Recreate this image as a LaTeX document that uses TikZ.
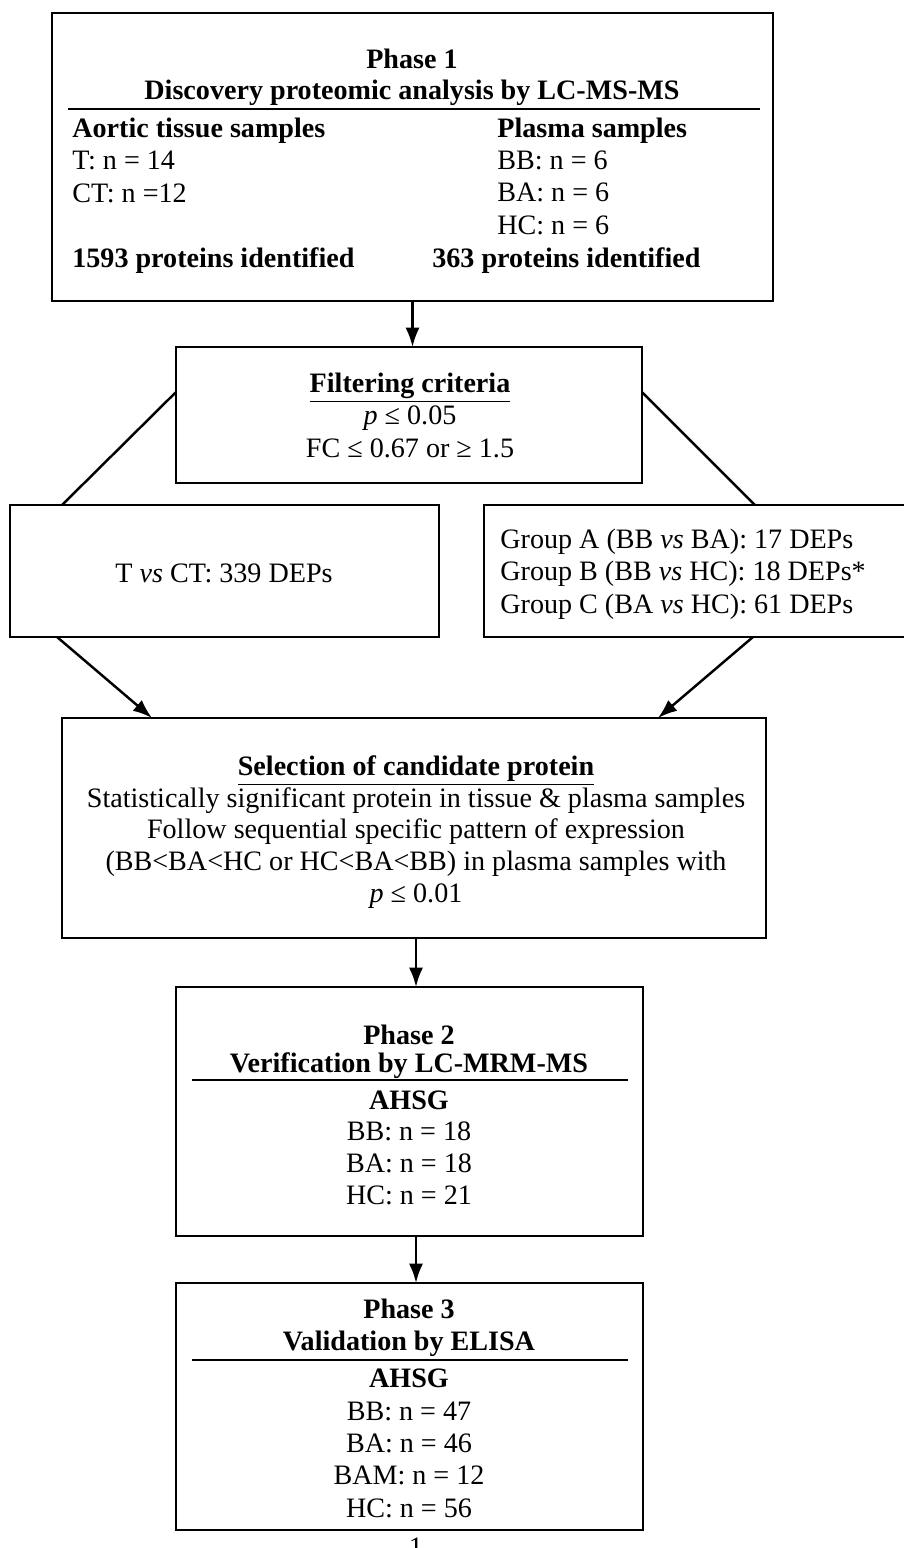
\documentclass[tikz,border=0pt]{standalone}
\usepackage{fontspec}
\setmainfont{Liberation Serif}
\usetikzlibrary{arrows.meta, calc}

\begin{document}
\begin{tikzpicture}[
    x=0.02cm, y=-0.02cm, % one unit = one pixel of the page
    % Styles
    box/.style={ % Phase and step boxes
        draw,
        line width=1.1pt,
        inner sep=0pt,
        outer sep=0pt
    },
    txt/.style={ % Text inside the boxes
        inner sep=0pt,
        font=\fontsize{16}{18.4}\selectfont
    },
    head/.style={ % Bold titles
        txt,
        align=center,
        font=\fontsize{16}{18.1}\selectfont\bfseries
    },
    arrow/.style={
        -{Latex[length=11pt,width=8pt]},
        line width=1.4pt
    },
    link/.style={ % Lines without tips
        line width=1.4pt
    },
    rule/.style={
        line width=0.8pt
    }
]
    \useasboundingbox (0,0) rectangle (903,1548);

    % Boxes
    \node[box, minimum width=14.42cm, minimum height=5.76cm] (phase1) at (412.5,157) {};
    \node[box, minimum width=9.32cm, minimum height=2.72cm] (filter) at (409,415) {};
    \node[box, minimum width=8.58cm, minimum height=2.64cm] (tvsct) at (224.5,571) {};
    \node[box, minimum width=8.44cm, minimum height=2.64cm] (groups) at (695,571) {};
    \node[box, minimum width=14.08cm, minimum height=4.4cm] (select) at (414,828) {};
    \node[box, minimum width=9.34cm, minimum height=4.98cm] (phase2) at (409.5,1111.5) {};
    \node[box, minimum width=9.34cm, minimum height=4.94cm] (phase3) at (409.5,1406.5) {};

    % Phase 1
    \node[head, anchor=base] (p1title) at (412,100)
        {Phase 1\\Discovery proteomic analysis by LC-MS-MS};
    \draw[rule] (68,109) -- (760,109);
    \node[txt, align=left, anchor=base west] (tissue) at (72,202)
        {\textbf{Aortic tissue samples}\\T: n = 14\\CT: n =12};
    \node[txt, align=left, anchor=base west] (plasma) at (497,234)
        {\textbf{Plasma samples}\\BB: n = 6\\BA: n = 6\\HC: n = 6};
    \node[txt, anchor=base west, font=\fontsize{16}{18.4}\selectfont\bfseries] (tissuen) at (72,267) {1593 proteins identified};
    \node[txt, anchor=base west, font=\fontsize{16}{18.4}\selectfont\bfseries] (plasman) at (432,267) {363 proteins identified};

    % Filtering
    \node[txt, align=center, anchor=base] (filtertxt) at (410,457)
        {\underline{\textbf{Filtering criteria}}\\\textit{p} ≤ 0.05\\FC ≤ 0.67 or ≥ 1.5};
    \node[txt, anchor=base] (tvscttxt) at (224,582) {T \textit{vs} CT: 339 DEPs};
    \node[txt, align=left, anchor=base west] (groupstxt) at (500,613)
        {Group A (BB \textit{vs} BA): 17 DEPs\\Group B (BB \textit{vs} HC): 18 DEPs*\\Group C (BA \textit{vs} HC): 61 DEPs};

    % Candidate selection
    \node[txt, align=center, anchor=base, font=\fontsize{16}{18}\selectfont] (selecttxt) at (416,902)
        {\underline{\textbf{Selection of candidate protein}}\\
         Statistically significant protein in tissue \& plasma samples\\
         Follow sequential specific pattern of expression\\
         (BB<BA<HC or HC<BA<BB) in plasma samples with\\
         \textit{p} ≤ 0.01};

    % Phase 2
    \node[head, anchor=base, font=\fontsize{16}{15.5}\selectfont\bfseries] (p2title) at (409,1072)
        {Phase 2\\Verification by LC-MRM-MS};
    \draw[rule] (192,1080) -- (628,1080);
    \node[txt, align=center, anchor=base, font=\fontsize{16}{18}\selectfont] (p2list) at (409,1204)
        {\textbf{AHSG}\\BB: n = 18\\BA: n = 18\\HC: n = 21};

    % Phase 3
    \node[head, anchor=base] (p3title) at (409,1350)
        {Phase 3\\Validation by ELISA};
    \draw[rule] (192,1360) -- (628,1360);
    \node[txt, align=center, anchor=base] (p3list) at (409,1517)
        {\textbf{AHSG}\\BB: n = 47\\BA: n = 46\\BAM: n = 12\\HC: n = 56};

    % Page number
    \node[txt, anchor=base] (page) at (416,1556) {1};

    % Connectors
    \draw[arrow] (phase1.south) -- (phase1.south |- filter.north);
    \draw[link] ($(filter.north west)+(0,45)$) -- ($(tvsct.north west)+(52,0)$);
    \draw[link] ($(filter.north east)+(0,45)$) -- ($(groups.north east)+(-151,0)$);
    \draw[arrow] ($(tvsct.south west)+(47,0)$) -- ($(select.north west)+(90,0)$);
    \draw[arrow] ($(groups.south east)+(-153,0)$) -- ($(select.north east)+(-108,0)$);
    \draw[arrow] ($(select.south)+(2,0)$) -- ($(select.south |- phase2.north)+(2,0)$);
    \draw[arrow] ($(select.south |- phase2.south)+(2,0)$) -- ($(select.south |- phase3.north)+(2,0)$);
\end{tikzpicture}
\end{document}
